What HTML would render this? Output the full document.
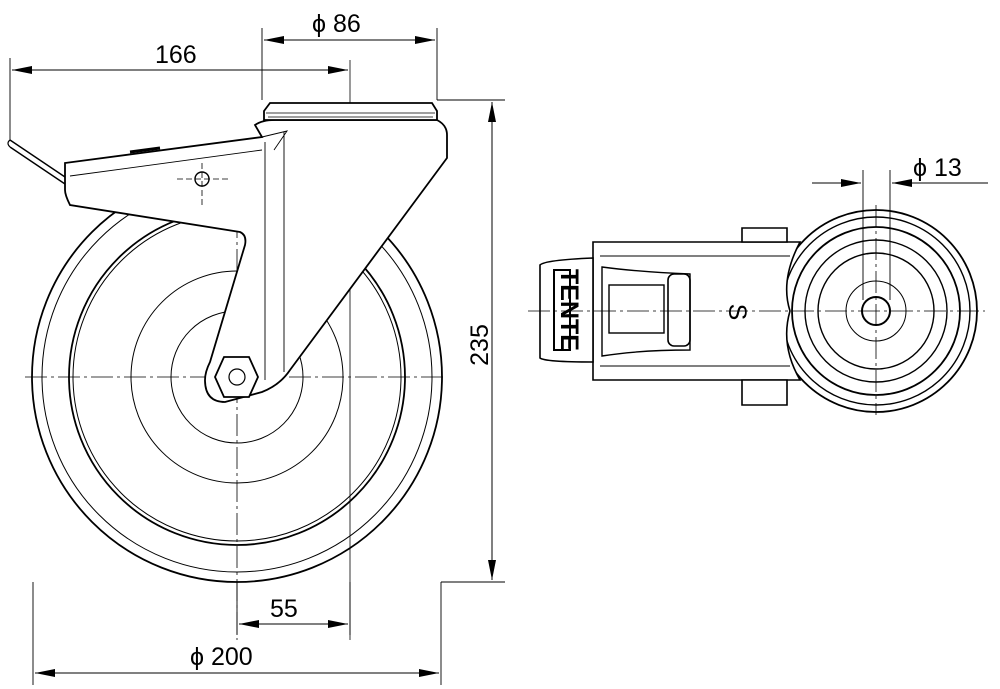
<!DOCTYPE html>
<html><head><meta charset="utf-8"><style>
html,body{margin:0;padding:0;background:#fff}
svg{display:block}
text{font-family:"Liberation Sans",sans-serif;font-size:25px;fill:#000}
</style></head><body>
<svg width="1000" height="689" viewBox="0 0 1000 689" xmlns="http://www.w3.org/2000/svg">
<defs>
<marker id="a" viewBox="0 0 10 4" refX="10" refY="2" markerWidth="24" markerHeight="8" markerUnits="userSpaceOnUse" orient="auto-start-reverse"><path d="M0,0L10,2L0,4z" fill="#000"/></marker>
</defs>
<g fill="none" stroke="#000" stroke-width="1">
<!-- LEFT VIEW wheel -->
<circle cx="237" cy="377" r="205" stroke-width="1.8"/>
<circle cx="237" cy="377" r="195"/>
<circle cx="237" cy="377" r="168" stroke-width="1.8"/>
<circle cx="237" cy="377" r="164"/>
<circle cx="237" cy="377" r="106"/>
<circle cx="237" cy="377" r="66"/>
<!-- centre lines -->
<path d="M25 377H447M237 150V640" stroke-dasharray="22,4,3,4" stroke-width="0.8"/>
<path d="M350 60V640" stroke-width="0.8"/>
<!-- fork (white fill) -->
<path d="M255 125Q262 120 275 120H437Q447 125 447 135V158L290 370Q280 385 262 392L225 402Q205 402 205 380Q205 372 210 362L245 245Q247 235 240 232L70 205Q65 195 65 190V163L262 137L255 125Z" fill="#fff" stroke-width="1.8"/>
<path d="M70 176L262 150M262 137L287 131L274 150M265 142V380M284 132V372" stroke-width="0.9"/>
<path d="M130 152L160 148" stroke-width="3"/>
<!-- kingpin plate -->
<path d="M264 111L270 103H432L437 111V120H264Z" fill="#fff" stroke-width="1.8"/>
<path d="M266 113H435M268 117H433" stroke-width="0.8"/>
<!-- pedal rod -->
<path d="M10 140L65 177M10 147L65 184" stroke-width="1.4"/>
<path d="M10 140Q6 143 10 147" stroke-width="1.2"/>
<!-- small hole -->
<circle cx="202" cy="179" r="7" stroke-width="1.4"/>
<path d="M177 179H228M202 163V206" stroke-dasharray="6,3" stroke-width="0.8"/>
<!-- axle nut -->
<path d="M224 357H249L258 377L249 397H224L215 377Z" fill="#fff" stroke-width="1.8"/>
<circle cx="237" cy="377" r="8" stroke-width="1.2"/>
<!-- LEFT dims -->
<path d="M10 58V140M262 28V100M437 28V100M437 100H505M441 582H505M33 582V685M441 582V685M237 582V635M350 582V635" stroke-width="0.9"/>
<path d="M12 70H348" marker-start="url(#a)" marker-end="url(#a)"/>
<path d="M264 40H435" marker-start="url(#a)" marker-end="url(#a)"/>
<path d="M492 102V580" marker-start="url(#a)" marker-end="url(#a)"/>
<path d="M239 624H348" marker-start="url(#a)" marker-end="url(#a)"/>
<path d="M35 673H439" marker-start="url(#a)" marker-end="url(#a)"/>
<!-- RIGHT VIEW -->
<circle cx="876" cy="311" r="101" stroke-width="1.8"/>
<circle cx="876" cy="311" r="94" stroke-width="1.4"/>
<circle cx="876" cy="311" r="84" stroke-width="1.8"/>
<circle cx="876" cy="311" r="71" stroke-width="1.4"/>
<circle cx="876" cy="311" r="58" stroke-width="1.4"/>
<circle cx="876" cy="311" r="30"/>
<circle cx="876" cy="311" r="14" stroke-width="2"/>
<path d="M593 242H800Q780 280 790 311Q780 345 800 380H593Z" fill="#fff" stroke-width="1.6"/>
<path d="M600 256H790M600 366H790" stroke-width="0.9"/>
<path d="M602 267Q640 272 690 274V350Q640 350 602 356Z" stroke-width="1.4"/>
<rect x="609" y="285" width="55" height="48" stroke-width="1.4"/>
<rect x="668" y="274" width="22" height="72" rx="6" stroke-width="1.6"/>
<path d="M540 265Q545 260 593 258V362Q545 362 540 358Z" fill="#fff" stroke-width="1.6"/>
<rect x="554" y="270" width="16" height="80" stroke-width="2"/>
<path d="M742 228H787V242H742ZM742 380H787V405H742Z" fill="#fff" stroke-width="1.6"/>
<path d="M528 311H985M876 205V415" stroke-dasharray="22,4,3,4" stroke-width="0.8"/>
<path d="M863 170V300M890 170V300" stroke-width="0.9"/>
<path d="M812 183H861" marker-end="url(#a)"/>
<path d="M988 183H892" marker-end="url(#a)"/>
</g>
<text x="729" y="312" font-size="10" transform="rotate(90 729 312)" text-anchor="middle">S</text>
<text x="561" y="310" font-size="11" font-weight="bold" transform="rotate(90 561 310)" text-anchor="middle">TENTE</text>
<text x="155" y="63">166</text>
<text x="312" y="32">ϕ 86</text>
<text x="270" y="617">55</text>
<text x="190" y="665">ϕ 200</text>
<text x="913" y="176">ϕ 13</text>
<text x="488" y="345" transform="rotate(-90 488 345)" text-anchor="middle">235</text>
</svg>
</body></html>
